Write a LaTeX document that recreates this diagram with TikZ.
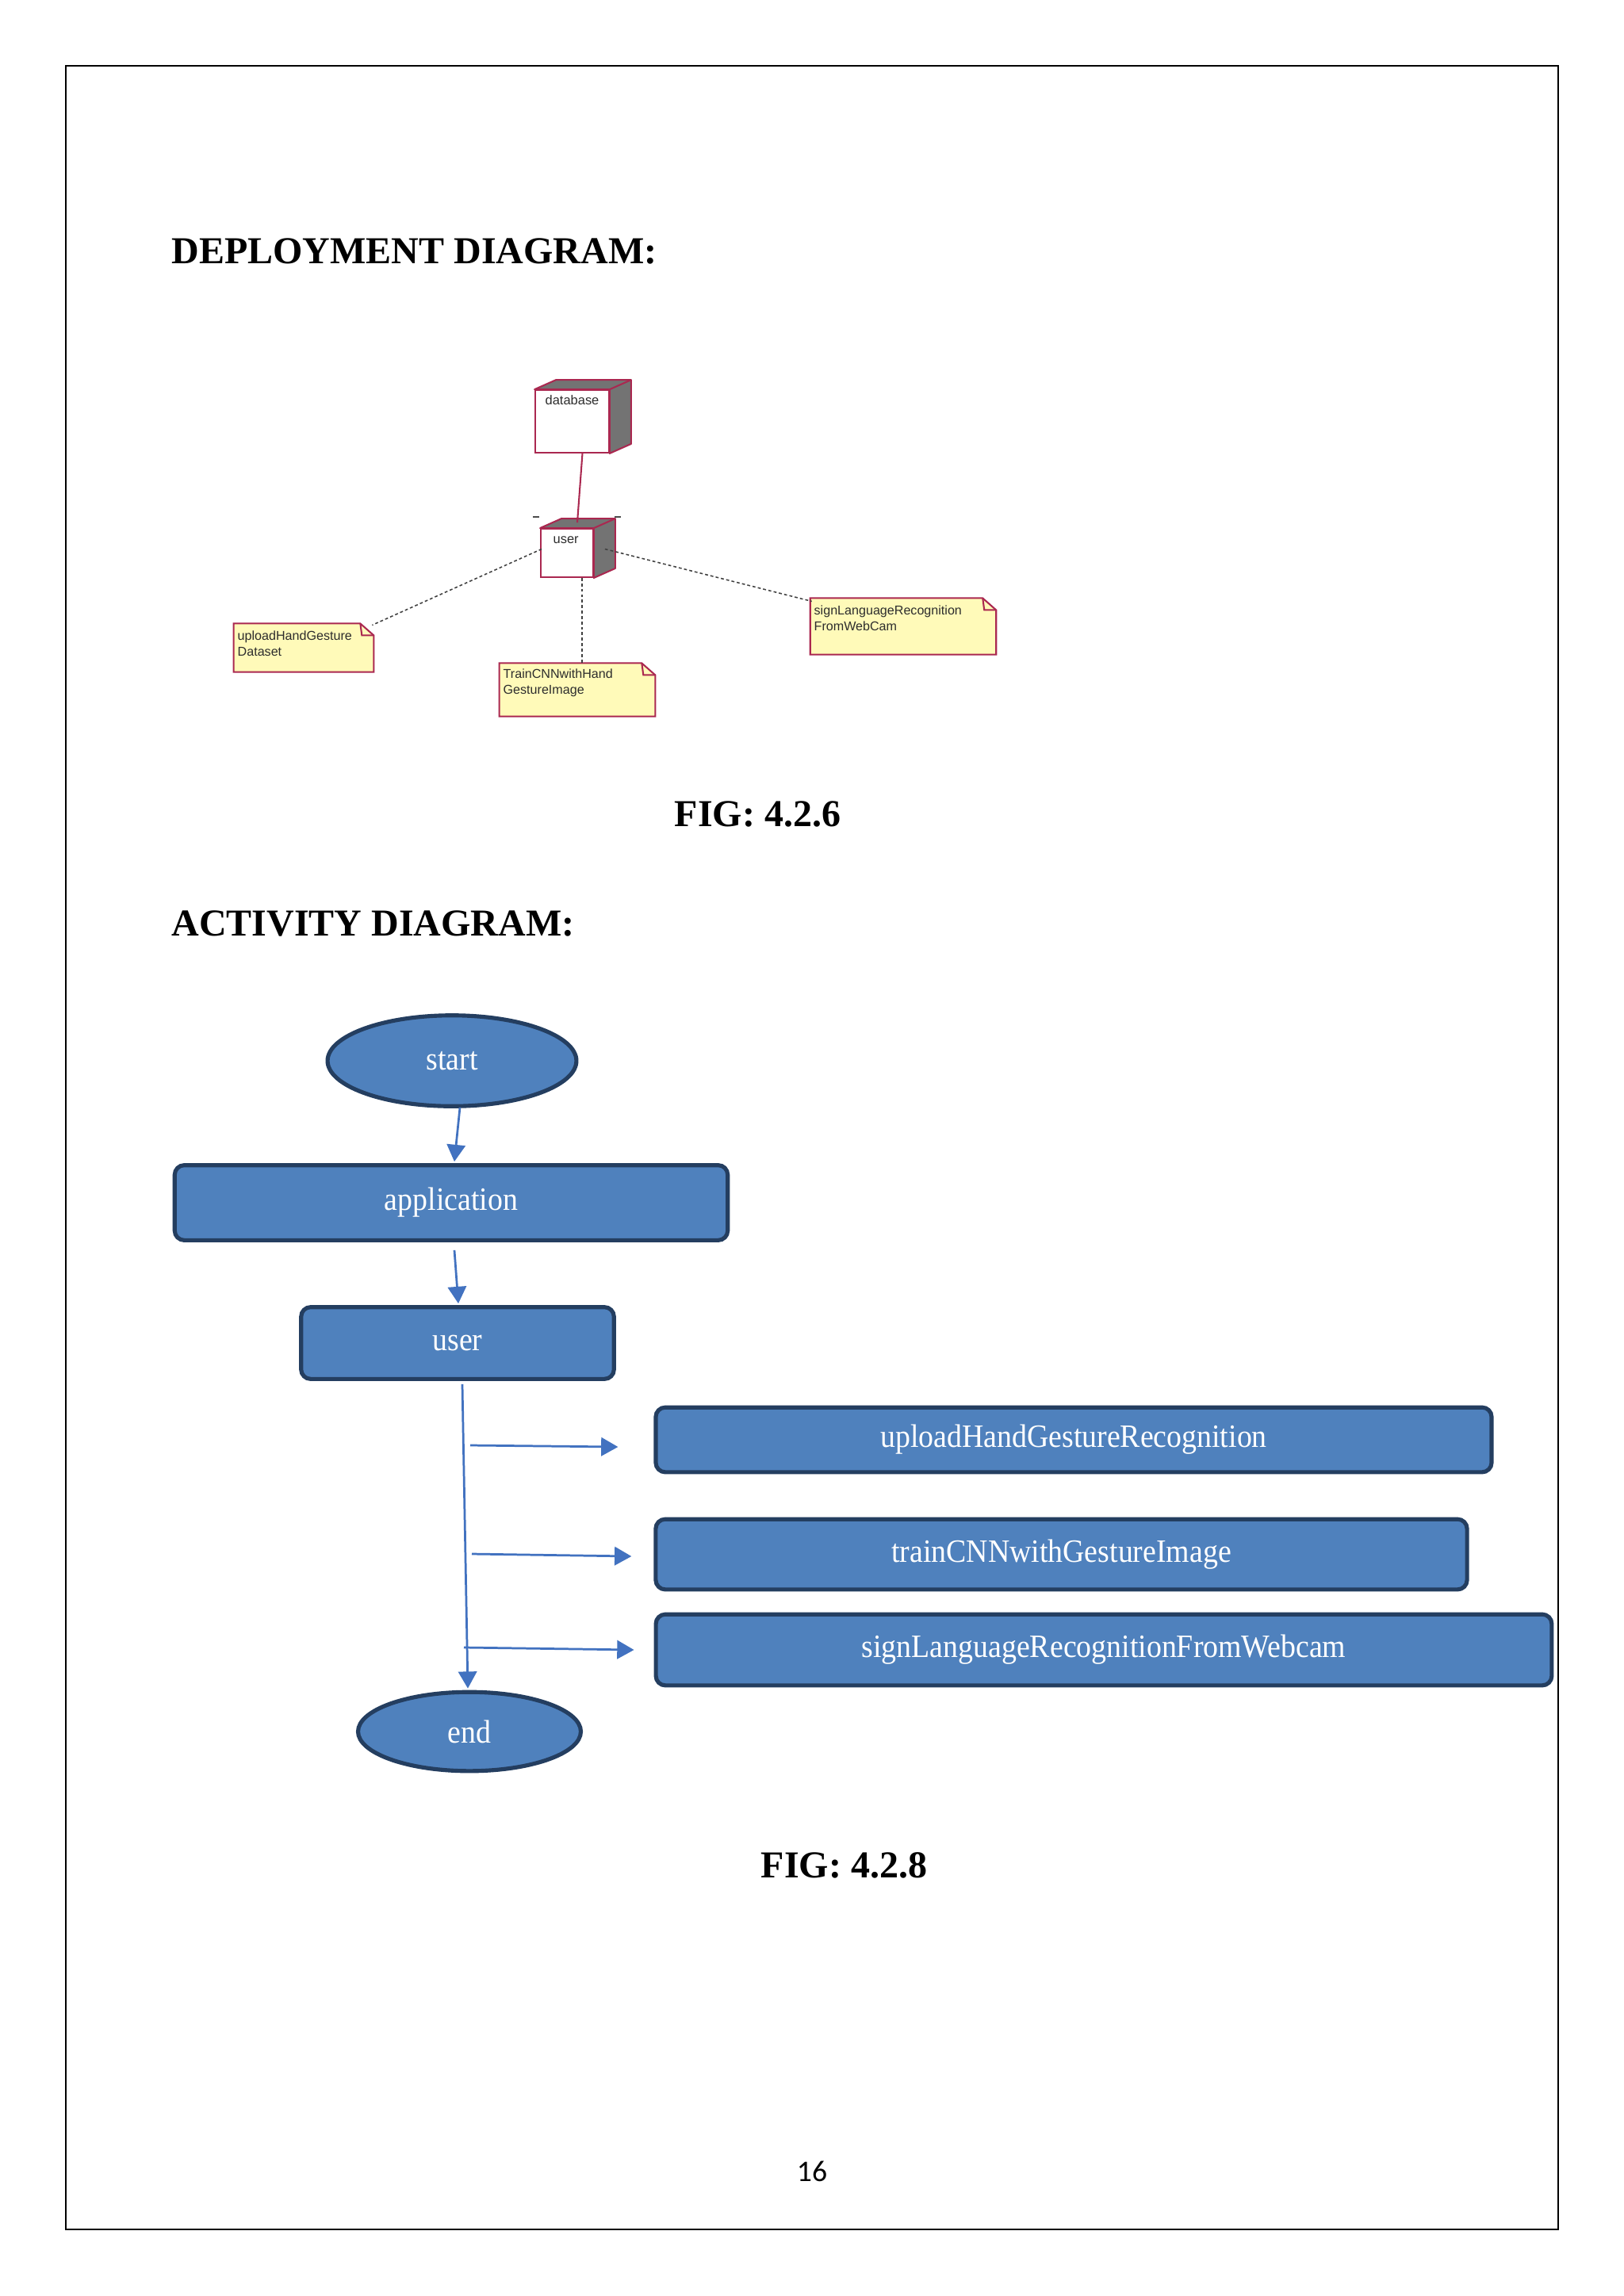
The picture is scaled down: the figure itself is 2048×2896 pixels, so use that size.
\documentclass[tikz,border=0pt]{standalone}
\usepackage{fontspec}
\setmainfont{Liberation Serif}
\newfontfamily\notefont{Liberation Sans}
\newfontfamily\actfont{Liberation Serif}[FakeStretch=0.92]
\newfontfamily\pgnumfont{Carlito}
\usetikzlibrary{shapes.geometric,arrows.meta,calc}
\def\pxl{0.29066pt}
\definecolor{rosered}{RGB}{170,40,80}
\definecolor{cubegray}{RGB}{115,115,115}
\definecolor{noteyellow}{RGB}{255,250,185}
\definecolor{notetextc}{RGB}{45,45,45}
\definecolor{actfill}{RGB}{79,129,189}
\definecolor{actborder}{RGB}{36,62,96}
\definecolor{flowblue}{RGB}{66,114,192}
\newcommand\drawcube[1]{%
  \path[cubeside] (#1.north west) -- ($(#1.north west)+(27,-12)$) -- ($(#1.north east)+(27,-12)$)
    -- ($(#1.south east)+(27,-12)$) -- (#1.south east) -- (#1.north east) -- cycle;
  \draw[cubeedge] (#1.north east) -- ($(#1.north east)+(27,-12)$);}
\newcommand\drawnote[1]{%
  \path[notebody] (#1.south west) -- (#1.north west) -- ($(#1.north east)+(-17,0)$)
    -- ($(#1.north east)+(0,15)$) -- (#1.south east) -- cycle;
  \draw[cubeedge] ($(#1.north east)+(-17,0)$) -- ($(#1.north east)+(-15,15)$) -- ($(#1.north east)+(0,15)$);}
\begin{document}
\begin{tikzpicture}[x=0.1025390625mm,y=-0.1025390625mm,
  heading/.style={font=\bfseries\fontsize{14pt}{16pt}\selectfont, inner sep=0pt},
  cubefront/.style={rectangle, draw=rosered, fill=white, line width=0.6pt, inner sep=0pt},
  cubeside/.style={draw=rosered, fill=cubegray, line width=0.6pt, line join=round},
  cubeedge/.style={draw=rosered, line width=0.6pt},
  cubelabel/.style={font=\notefont\fontsize{4.8pt}{5.8pt}\selectfont, text=notetextc, inner sep=0pt, anchor=west},
  notearea/.style={rectangle, draw=none, inner sep=0pt},
  notebody/.style={draw=rosered, fill=noteyellow, line width=0.6pt},
  notetext/.style={font=\notefont\fontsize{4.7pt}{5.8pt}\selectfont, text=notetextc, align=left, inner sep=0pt, anchor=north west},
  dotline/.style={draw=black!75, line width=0.45pt, dash pattern=on 1.1pt off 0.9pt},
  actbox/.style={rectangle, rounded corners=3.5pt, draw=actborder, fill=actfill, line width=1.5pt,
    text=white, font=\actfont\fontsize{12pt}{14pt}\selectfont, inner sep=0pt},
  actell/.style={ellipse, draw=actborder, fill=actfill, line width=1.5pt,
    text=white, font=\actfont\fontsize{12pt}{14pt}\selectfont, inner sep=0pt},
  flow/.style={draw=flowblue, line width=0.8pt, -{Triangle[width=6.8pt,length=6.2pt]}},
]
\useasboundingbox (0,0) rectangle (2048,2896);
\fill[white] (0,0) rectangle (2048,2896);
% page frame
\draw[line width=0.7pt] (83,83) rectangle (1965,2812);

% headings
\node[heading, anchor=west] (h1) at (216,316.5) {DEPLOYMENT DIAGRAM:};
\node[heading] (f1) at (955.5,1027) {FIG: 4.2.6};
\node[heading, anchor=west] (h2) at (216,1165) {ACTIVITY DIAGRAM:};
\node[heading] (f2) at (1064.5,2353) {FIG: 4.2.8};
\node[font=\pgnumfont\fontsize{11pt}{13pt}\selectfont, inner sep=0pt] (pg) at (1024,2739) {16};

% ---------- deployment diagram ----------
\node[cubefront, minimum width={93*\pxl}, minimum height={79*\pxl}] (db) at (721.5,531.5) {};
\drawcube{db}
\node[cubelabel] (dbt) at (687,505) {database};

\node[cubefront, minimum width={66*\pxl}, minimum height={61*\pxl}] (us) at (715,697.5) {};
\drawcube{us}
\node[cubelabel] (ust) at (697,681) {user};
\draw[black!70, line width=0.6pt] (672,652) -- (680,652);
\draw[black!70, line width=0.6pt] (775,652) -- (783,652);

\draw[cubeedge] ($(db.south)+(13,0)$) -- ($(us.north)+(13,-7)$);

\node[notearea, minimum width={176*\pxl}, minimum height={60*\pxl}] (n1) at (383,817) {};
\drawnote{n1}
\node[notetext] (n1t) at (299,795) {uploadHandGesture\\Dataset};

\node[notearea, minimum width={196*\pxl}, minimum height={66*\pxl}] (n2) at (728,870) {};
\drawnote{n2}
\node[notetext] (n2t) at (634,843) {TrainCNNwithHand\\GestureImage};

\node[notearea, minimum width={234*\pxl}, minimum height={70*\pxl}] (n3) at (1139,790) {};
\drawnote{n3}
\node[notetext] (n3t) at (1026,763) {signLanguageRecognition\\FromWebCam};

\draw[dotline] ($(us.west)+(2,-5)$) -- ($(n1.north east)+(-2,2)$);
\draw[dotline] ($(us.south)+(19,0)$) -- ($(n2.north)+(6,0)$);
\draw[dotline] ($(us.east)+(14,-5)$) -- ($(n3.north west)+(2,4)$);

% ---------- activity diagram ----------
\node[actell, minimum width={315*\pxl}, minimum height={115*\pxl}] (start) at (570,1338) {start};
\node[actbox, minimum width={700*\pxl}, minimum height={95*\pxl}] (app) at (569,1517) {application};
\node[actbox, minimum width={396*\pxl}, minimum height={91*\pxl}] (u2) at (577,1694) {user};
\node[actbox, minimum width={1058*\pxl}, minimum height={82*\pxl}] (up) at (1354,1816) {uploadHandGestureRecognition};
\node[actbox, minimum width={1027*\pxl}, minimum height={89*\pxl}] (tr) at (1338.5,1960.5) {trainCNNwithGestureImage};
\node[actbox, minimum width={1134*\pxl}, minimum height={90*\pxl}] (sg) at (1392,2081) {signLanguageRecognitionFromWebcam};
\node[actell, minimum width={282*\pxl}, minimum height={100*\pxl}] (end) at (592,2184) {end};

\draw[flow] ($(start.south)+(10,-1)$) -- ($(app.north)+(4,-2)$);
\draw[flow] ($(app.south)+(4,10)$) -- ($(u2.north)+(1,-2)$);
\draw[flow] ($(u2.south)+(6,4)$) -- ($(end.north)+(-2,-2)$);

\coordinate (b1s) at (593,1823);
\coordinate (b2s) at (595,1960);
\coordinate (b3s) at (585,2078);
\coordinate (b1e) at ($(up.west)+(-45,9)$);
\coordinate (b2e) at ($(tr.west)+(-28,2.5)$);
\coordinate (b3e) at ($(sg.west)+(-25,0)$);
\draw[flow] (b1s) -- (b1e);
\draw[flow] (b2s) -- (b2e);
\draw[flow] (b3s) -- (b3e);
\end{tikzpicture}
\end{document}
